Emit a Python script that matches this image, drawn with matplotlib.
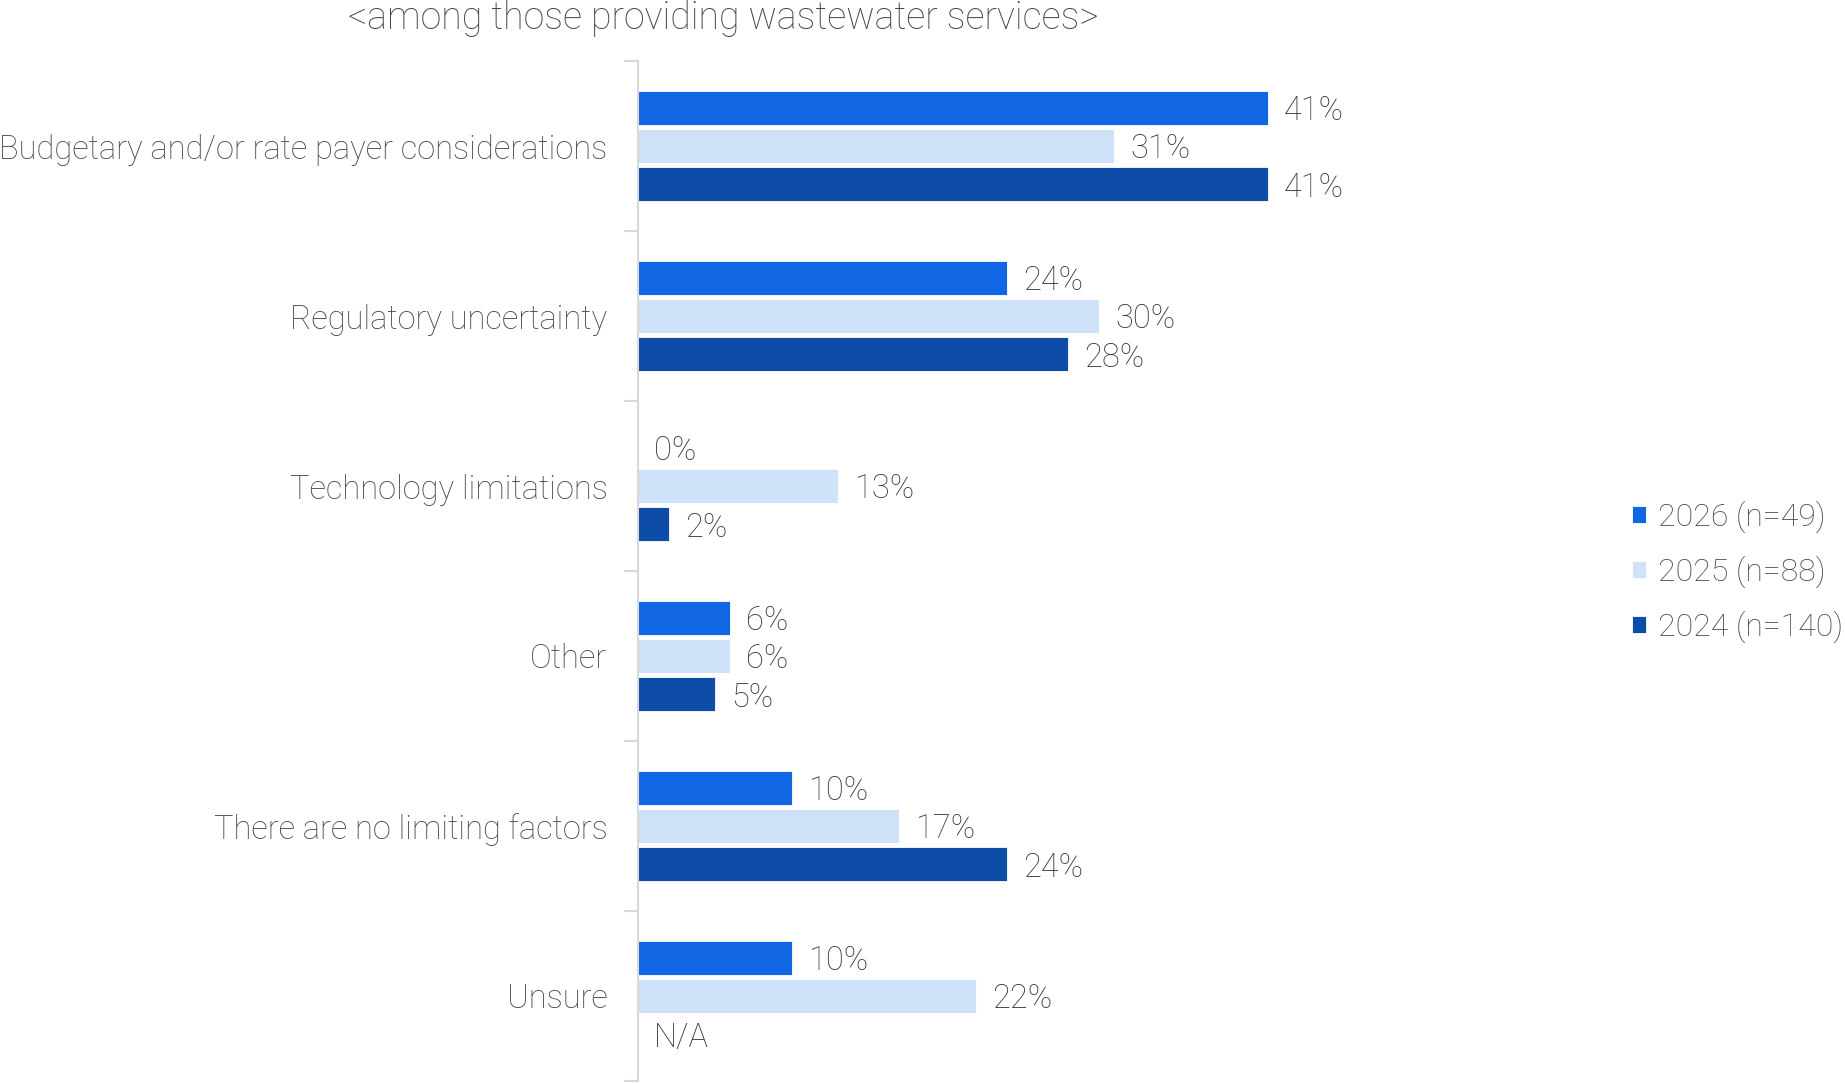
import matplotlib.pyplot as plt
import numpy as np

plt.rcParams["font.family"] = ["Roboto", "DejaVu Sans"]
plt.rcParams["font.weight"] = "light"

# ── Data ─────────────────────────────────────────────────────────────────
categories = [
    "Budgetary and/or rate payer considerations",
    "Regulatory uncertainty",
    "Technology limitations",
    "Other",
    "There are no limiting factors",
    "Unsure",
]
series_labels = ["2026 (n=49)", "2025 (n=88)", "2024 (n=140)"]
vals_2026 = [41, 24, 0, 6, 10, 10]
vals_2025 = [31, 30, 13, 6, 17, 22]
vals_2024 = [41, 28, 2, 5, 24, None]  # None -> N/A

COLORS = ["#1167E3", "#D0E1FA", "#0D4DA8"]
TEXT = "#474747"
VALUE_TEXT = "#363636"
FS = 23.5

# ── Figure ───────────────────────────────────────────────────────────────
W, H = 1845, 1084
fig = plt.figure(figsize=(W / 100, H / 100), dpi=100)
ax_left, ax_right, ax_top, ax_bottom = 638, 1600, 61, 1081
ax = fig.add_axes([ax_left / W, (H - ax_bottom) / H,
                   (ax_right - ax_left) / W, (ax_bottom - ax_top) / H])

px_per_pct = 15.37
ax.set_xlim(0, (ax_right - ax_left) / px_per_pct)
ax.set_ylim(len(categories) - 0.5, -0.5)

y = np.arange(len(categories))
offsets = [-0.224, 0.0, 0.224]
bar_h = 0.2
all_series = [vals_2026, vals_2025, vals_2024]

handles = []
for vals, off, color, lab in zip(all_series, offsets, COLORS, series_labels):
    v = [0 if x is None else x for x in vals]
    bars = ax.barh(y + off, v, height=bar_h, color=color, label=lab,
                   edgecolor="white", linewidth=0.6)
    handles.append(bars)
    for yi, x in zip(y + off, vals):
        txt = "N/A" if x is None else f"{x}%"
        ax.annotate(txt, xy=(x or 0, yi), xytext=(16, 0),
                    textcoords="offset pixels", va="center_baseline",
                    ha="left", fontsize=FS, color=VALUE_TEXT)

# axis styling
for s in ["top", "right", "bottom"]:
    ax.spines[s].set_visible(False)
ax.spines["left"].set_color("#D9D9D9")
ax.spines["left"].set_linewidth(1.5)
ax.set_xticks([])
ax.set_yticks(y)
ax.set_yticklabels(categories, fontsize=FS, color=TEXT)
ax.tick_params(axis="y", which="major", length=0, pad=22)
ax.set_yticks(np.arange(-0.5, len(categories)), minor=True)
ax.tick_params(axis="y", which="minor", length=10, width=1.5, color="#D9D9D9")

leg = ax.legend(handles=handles, loc="center left",
                bbox_to_anchor=(1632 / W, 1 - 572 / H),
                bbox_transform=fig.transFigure, frameon=False,
                fontsize=23, handlelength=0.45, handleheight=0.45,
                handletextpad=0.35, labelspacing=0.72, borderaxespad=0,
                borderpad=0)
for t in leg.get_texts():
    t.set_color(TEXT)

fig.text(723 / W, 1 - 18 / H, "<among those providing wastewater services>",
         ha="center", va="center", fontsize=27, color=TEXT)

fig.savefig("out.png", dpi=100)
